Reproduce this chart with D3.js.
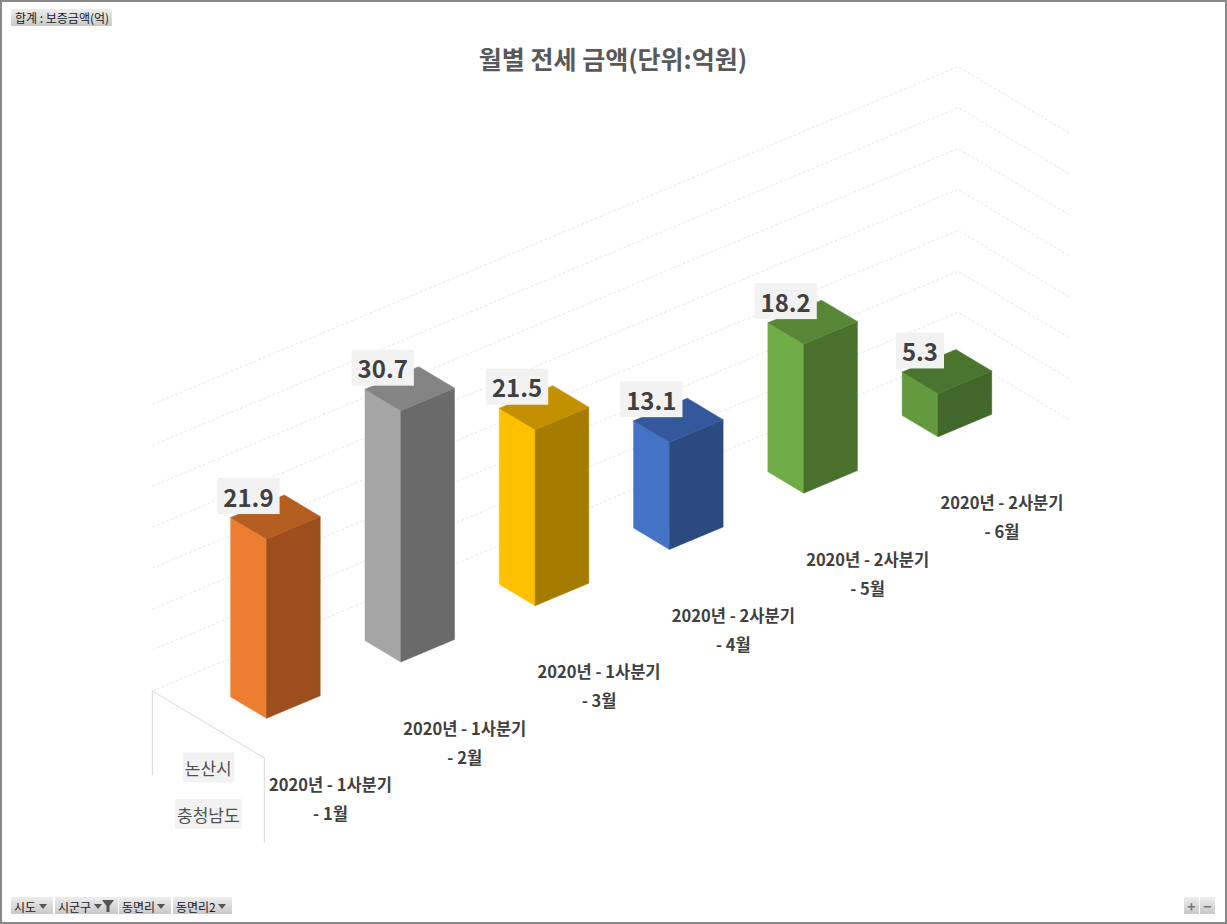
<!DOCTYPE html>
<html>
<head>
<meta charset="utf-8">
<title>월별 전세 금액</title>
<style>
  body { margin: 0; background: #fff; }
  svg { display: block; font-family: "Noto Sans CJK KR", "Noto Sans", sans-serif; }
</style>
</head>
<body>
<script src="https://d3js.org/d3.v7.min.js"></script>
<script>

// chart data
var months = ["1월", "2월", "3월", "4월", "5월", "6월"];
var quarterLabels = ["2020년 - 1사분기", "2020년 - 1사분기", "2020년 - 1사분기",
                     "2020년 - 2사분기", "2020년 - 2사분기", "2020년 - 2사분기"];
var monthLabels = ["- 1월", "- 2월", "- 3월", "- 4월", "- 5월", "- 6월"];
var values = [21.9, 30.7, 21.5, 13.1, 18.2, 5.3];
var seriesLabels = ["논산시", "충청남도"];
var filterButtons = ["시도", "시군구", "동면리", "동면리2"];

// face colours per bar: side, front, top
var barColors = [
  ["#ED7D31", "#9C4F1D", "#B45E22"],
  ["#A5A5A5", "#6A6A6A", "#848484"],
  ["#FFC000", "#A67C00", "#C39100"],
  ["#4472C4", "#2B4A80", "#33589B"],
  ["#70AD47", "#4A702E", "#578636"],
  ["#629A3D", "#42672A", "#4A752E"]
];

var W = 1227, H = 924;

var svg = d3.select("body").append("svg")
    .attr("width", W)
    .attr("height", H);

// projection of the 3D box: category axis runs up-right, depth axis down-right
var origin = {x: 152.3, y: 691},
    catVec = {x: 134.3, y: -56.3},
    depVec = {x: 112, y: 67};

var cat = d3.scaleBand().domain(months).range([0, months.length])
    .paddingInner(0.6).paddingOuter(0.3);
var dep = d3.scaleBand().domain(["s"]).range([0, 1])
    .paddingInner(0.68).paddingOuter(0.34);
var v = d3.scaleLinear().domain([0, 35]).range([0, 286.6]);

function P(c, d, val) {
  return [origin.x + c * catVec.x + d * depVec.x,
          origin.y + c * catVec.y + d * depVec.y - v(val)];
}

var n = months.length;

// walls: dashed gridlines on back wall and right side wall
var grid = svg.append("g");
v.ticks(7).forEach(function(t) {
  var a = P(0, 0, t), b = P(n, 0, t), c = P(n, 1, t);
  grid.append("path")
      .attr("d", "M" + a + "L" + b + "L" + c)
      .attr("fill", "none")
      .attr("stroke", "#E2E2E2")
      .attr("stroke-width", 0.8)
      .attr("stroke-dasharray", "3,2");
});

// depth axis line and label dividers
var p0 = P(0, 0, 0), p1 = P(0, 1, 0);
svg.append("path")
    .attr("d", "M" + p0 + "L" + p1)
    .attr("stroke", "#D9D9D9").attr("fill", "none");
svg.append("line")
    .attr("x1", p0[0]).attr("y1", p0[1]).attr("x2", p0[0]).attr("y2", p0[1] + 84)
    .attr("stroke", "#D9D9D9");
svg.append("line")
    .attr("x1", p1[0]).attr("y1", p1[1]).attr("x2", p1[0]).attr("y2", p1[1] + 85)
    .attr("stroke", "#D9D9D9");

// bars, drawn back to front
var bars = svg.append("g");
var d0 = dep("s"), d1 = dep("s") + dep.bandwidth();

months.slice().reverse().forEach(function(m) {
  var i = months.indexOf(m);
  var c0 = cat(m), c1 = cat(m) + cat.bandwidth(), h = values[i];
  var side = [P(c0, d0, 0), P(c0, d1, 0), P(c0, d1, h), P(c0, d0, h)];
  var front = [P(c0, d1, 0), P(c1, d1, 0), P(c1, d1, h), P(c0, d1, h)];
  var top = [P(c0, d0, h), P(c0, d1, h), P(c1, d1, h), P(c1, d0, h)];
  var g = bars.append("g");
  [[side, 0], [front, 1], [top, 2]].forEach(function(f) {
    g.append("polygon")
        .attr("points", f[0].join(" "))
        .attr("fill", barColors[i][f[1]])
        .attr("stroke", barColors[i][f[1]])
        .attr("stroke-width", 0.5);
  });
});

// data labels
var labels = svg.append("g");
months.forEach(function(m, i) {
  var c = P(cat(m) + cat.bandwidth() / 2, 0.5, values[i]);
  var lx = c[0] - 27, ly = c[1] - 21;
  var g = labels.append("g");
  var r = g.append("rect").attr("fill", "#F2F2F2");
  var t = g.append("text")
      .attr("x", lx).attr("y", ly)
      .attr("text-anchor", "middle")
      .attr("dominant-baseline", "central")
      .attr("font-size", 24)
      .attr("font-weight", "bold")
      .attr("fill", "#404040")
      .text(values[i].toFixed(1));
  var bb = t.node().getBBox();
  r.attr("x", lx - bb.width / 2 - 6).attr("y", ly - 18)
   .attr("width", bb.width + 12).attr("height", 36);
});

// category labels along the floor front edge
months.forEach(function(m, i) {
  var e = P(cat(m) + cat.bandwidth() / 2, 1, 0);
  svg.append("text")
      .attr("x", e[0] - 1).attr("y", e[1] + 54)
      .attr("text-anchor", "middle").attr("dominant-baseline", "central")
      .attr("font-size", 16.5).attr("font-weight", "bold").attr("fill", "#404040")
      .text(quarterLabels[i]);
  svg.append("text")
      .attr("x", e[0] - 1).attr("y", e[1] + 83)
      .attr("text-anchor", "middle").attr("dominant-baseline", "central")
      .attr("font-size", 16.5).attr("font-weight", "bold").attr("fill", "#404040")
      .text(monthLabels[i]);
});

// series (depth) labels
var sc = P(0, 0.5, 0);
seriesLabels.forEach(function(s, i) {
  var y = sc[1] + 43 + i * 46.5;
  var g = svg.append("g");
  var r = g.append("rect").attr("fill", "#F2F2F2");
  var t = g.append("text")
      .attr("x", sc[0]).attr("y", y)
      .attr("text-anchor", "middle").attr("dominant-baseline", "central")
      .attr("font-size", 17).attr("fill", "#505050")
      .text(s);
  var bb = t.node().getBBox();
  r.attr("x", sc[0] - bb.width / 2 - 2).attr("y", y - 15)
   .attr("width", bb.width + 4).attr("height", 30);
});

// title
svg.append("text")
    .attr("x", 613).attr("y", 58)
    .attr("text-anchor", "middle").attr("dominant-baseline", "central")
    .attr("font-size", 25).attr("font-weight", "bold").attr("fill", "#595959")
    .text("월별 전세 금액(단위:억원)");

// pivot field buttons
var defs = svg.append("defs");
var grad = defs.append("linearGradient").attr("id", "btn")
    .attr("x1", 0).attr("y1", 0).attr("x2", 0).attr("y2", 1);
grad.append("stop").attr("offset", "0%").attr("stop-color", "#EDEDED");
grad.append("stop").attr("offset", "100%").attr("stop-color", "#C9C9C9");

var topBtn = svg.append("g");
topBtn.append("rect").attr("x", 11).attr("y", 9).attr("width", 101).attr("height", 17)
    .attr("fill", "url(#btn)");
topBtn.append("text").attr("x", 15).attr("y", 17.5)
    .attr("dominant-baseline", "central").attr("font-size", 12).attr("fill", "#1a1a1a")
    .text("합계 : 보증금액(억)");

var btnX = [11, 55, 119, 173], btnW = [42, 63, 52, 59];
filterButtons.forEach(function(b, i) {
  var g = svg.append("g");
  g.append("rect").attr("x", btnX[i]).attr("y", 897).attr("width", btnW[i]).attr("height", 17)
      .attr("fill", "url(#btn)");
  g.append("text").attr("x", btnX[i] + 3).attr("y", 906)
      .attr("dominant-baseline", "central").attr("font-size", 12).attr("fill", "#1a1a1a")
      .text(b);
  var ax = btnX[i] + btnW[i] - (i === 1 ? 20 : 10);
  g.append("path").attr("d", "M" + (ax - 4) + ",904L" + (ax + 4) + ",904L" + ax + ",909Z")
      .attr("fill", "#555");
  if (i === 1) {
    var fx = ax + 10;
    g.append("path")
        .attr("d", "M" + (fx - 6) + ",900L" + (fx + 6) + ",900L" + (fx + 1.5) + ",906L" +
              (fx + 1.5) + ",912L" + (fx - 1.5) + ",912L" + (fx - 1.5) + ",906Z")
        .attr("fill", "#555");
  }
});

// zoom buttons bottom right
[["+", 1184], ["−", 1200]].forEach(function(b) {
  svg.append("rect").attr("x", b[1]).attr("y", 897).attr("width", 15).attr("height", 17)
      .attr("fill", "url(#btn)");
  svg.append("text").attr("x", b[1] + 7.5).attr("y", 905.5)
      .attr("text-anchor", "middle").attr("dominant-baseline", "central")
      .attr("font-size", 14).attr("font-weight", "bold").attr("fill", "#777")
      .text(b[0]);
});

// outer border
svg.append("rect").attr("x", 1).attr("y", 1).attr("width", W - 2).attr("height", H - 2)
    .attr("fill", "none").attr("stroke", "#888").attr("stroke-width", 2);

</script>
</body>
</html>
